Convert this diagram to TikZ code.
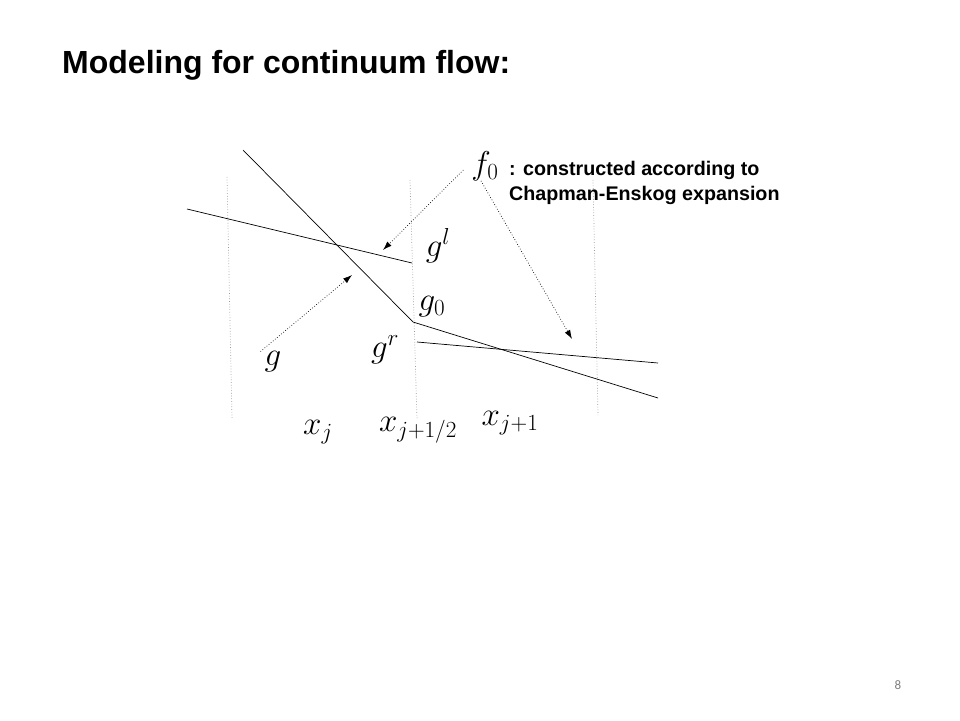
\documentclass[tikz,border=0pt]{standalone}
\usepackage{fix-cm}
\usepackage{fontspec}
\setsansfont{Liberation Sans}
\newfontfamily\pagefont{Carlito}
\usetikzlibrary{arrows.meta}

\begin{document}
\begin{tikzpicture}[x=1pt,y=-1pt,
    cellline/.style={gray!80,dotted,line width=0.7pt},
    recon/.style={line width=0.7pt},
    ptr/.style={dotted,line width=0.7pt,-{Latex[length=9pt,width=6pt]}},
    sym/.style={inner sep=0pt,font=\fontsize{33}{36}\selectfont}]
    \useasboundingbox[fill=white] (0,0) rectangle (960,720);
    \node[anchor=west,inner sep=0pt,font=\sffamily\bfseries\fontsize{32}{36}\selectfont] (title) at (62,65) {Modeling for continuum flow:};
    % cell boundaries
    \draw [cellline](227,177) -- (232,418);
    \draw [cellline](410,180) -- (417,420);
    \draw [cellline](593,180) -- (598,415);
    % reconstructed data
    \draw [recon](243,150) -- (413,322) -- (658,398);
    \draw [recon](187,209) -- (412,263);
    \draw [recon](417,342) -- (658,363);
    % labels
    \node [sym] (f0) at (485,166) {$f_0$};
    \node [anchor=west,align=left,inner sep=0pt,font=\sffamily\bfseries\fontsize{19.7}{25}\selectfont] (note) at (509,183) {: constructed according to\\Chapman-Enskog expansion};
    \node [sym] (gl) at (438,246) {$g^l$};
    \node [sym] (g0) at (432,307) {$g_0$};
    \node [sym] (gr) at (385,350) {$g^r$};
    \node [sym] (g) at (273,362) {$g$};
    \node [sym] (xj) at (318,432) {$x_j$};
    \node [sym] (xh) at (418,430) {$x_{j+1/2}$};
    \node [sym] (xn) at (510,423) {$x_{j+1}$};
    % where the data go
    \coordinate (tl) at (383,250);
    \coordinate (tg) at (352,275);
    \coordinate (tr) at (572,339);
    \draw [ptr]([xshift=-8pt,yshift=-4pt]f0.west) -- (tl);
    \draw [ptr]([xshift=-4pt]f0.south) -- (tr);
    \draw [ptr]([xshift=-4pt]g.north west) -- (tg);
    \node [text=gray,font=\pagefont\fontsize{13}{15}\selectfont] (pg) at (898,685) {8};
\end{tikzpicture}
\end{document}
